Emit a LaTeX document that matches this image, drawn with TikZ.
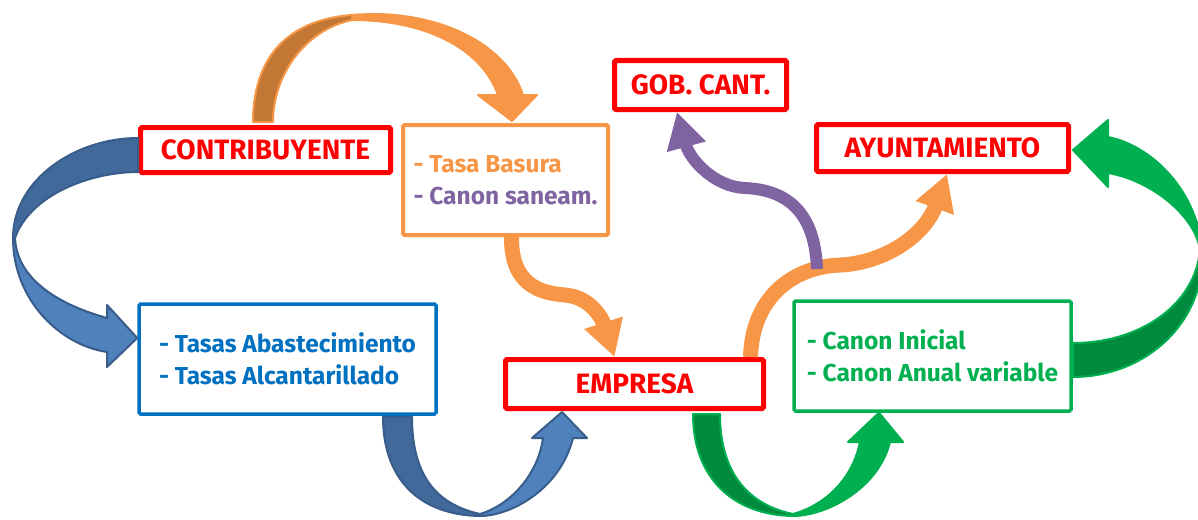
\documentclass[tikz,border=0pt]{standalone}
\usepackage{fontspec}
\setmainfont{Fira Sans}
\usepackage{xcolor}
\definecolor{cRed}{HTML}{FF0000}
\definecolor{cOra}{HTML}{F79646}
\definecolor{cOraD}{HTML}{C27834}
\definecolor{cPur}{HTML}{8064A2}
\definecolor{cBlu}{HTML}{0070C0}
\definecolor{cArB}{HTML}{4F81BD}
\definecolor{cArBD}{HTML}{41699A}
\definecolor{cArBL}{HTML}{385D8A}
\definecolor{cGrn}{HTML}{00B050}
\definecolor{cGrnD}{HTML}{008A3E}
\usetikzlibrary{arrows.meta,calc}

\begin{document}
\begin{tikzpicture}[x=1pt,y=-1pt,
  font=\bfseries\fontsize{24.5}{32}\selectfont,
  every node/.style={align=left},
  N/.style={draw,inner sep=0pt,rounded corners=1.5pt},
  lab/.style={N,draw=cRed,text=cRed,line width=5pt,minimum height=45pt,align=center,
    font=\bfseries\fontsize{28}{32}\selectfont},
  box/.style={N,line width=4pt,minimum height=110pt},
  ln/.style={-{Triangle[length=36pt,width=38pt]},line width=15pt,cOra},
  lnp/.style={ln,line width=12pt,cPur},
  ba/.style={fill=cArB,draw=cArBL,line width=2pt,line join=round},
  baD/.style={ba,fill=cArBD},
  ga/.style={fill=cGrn,draw=cGrn,line width=2pt,line join=round},
  gaD/.style={ga,fill=cGrnD},
  oa/.style={fill=cOra,draw=cOra,line width=2pt,line join=round},
  oaD/.style={oa,fill=cOraD}]
\useasboundingbox (0,0) rectangle (1198,519);

% --- labels (red) ---
\node[lab,minimum width=250pt] (contrib) at (265.5,150) {CONTRIBUYENTE};
\node[lab,minimum width=172pt,minimum height=49pt] (gob) at (700.5,85) {GOB. CANT.};
\node[lab,minimum width=252pt,minimum height=47pt] (ayunt) at (942.5,148) {AYUNTAMIENTO};
\node[lab,minimum width=258pt,minimum height=49pt] (empresa) at (634.5,384) {EMPRESA};

% --- boxes ---
\node[box,draw=cOra,minimum width=205pt] (tasa) at (505.5,180)
  {\textcolor{cOra}{- Tasa Basura}\\\textcolor{cPur}{- Canon saneam.}};
\node[box,draw=cBlu,text=cBlu,minimum width=297pt,line width=3.5pt] (tasas) at (287.5,359)
  {- Tasas Abastecimiento\\- Tasas Alcantarillado};
\node[box,draw=cGrn,text=cGrn,minimum width=277pt,line width=3.5pt] (canon) at (932.5,356)
  {- Canon Inicial\\- Canon Anual variable};

% thin arrows
\draw[ln] ($(tasa.south)+(6,0)$) .. controls (511,285) and (540,293) .. (565,295)
  .. controls (590,297) and (602,318) .. ($(empresa.north)+(-20,0)$);
\draw[ln] ($(empresa.north)+(116,0)$) .. controls (752,300) and (790,267) .. (840,265)
  .. controls (885,263) and (925,235) .. ($(ayunt.south)+(4.5,0)$);
\coordinate (fork) at (817,269);
\draw[lnp] (fork) .. controls (815,215) and (790,190) .. (745,188)
  .. controls (715,187) and (690,160) .. ($(gob.south)+(-23.5,0)$);

% block arrow, contributor -> tasas
\path[baD] ($(contrib.west)+(0,-12)$) .. controls (75,138) and (13,180) .. (13,238)
  -- (15,238) .. controls (30,195) and (90,172) .. ($(contrib.west)+(0,22)$) -- cycle;
\path[ba] (13,238) .. controls (13,300) and (60,345) .. (107,352) -- (107,367)
  -- ($(tasas.west)+(0,-21)$) -- (107,305) -- (107,318)
  .. controls (60,305) and (17,280) .. (15,238) -- cycle;
% block arrow, contributor -> tasa
\path[oaD] ($(contrib.north)+(-12.5,-3)$) .. controls (253,60) and (285,20) .. (352,15)
  -- (352,20) .. controls (305,30) and (273,75) .. ($(contrib.north)+(7.5,-3)$) -- cycle;
\path[oa] (352,15) .. controls (430,8) and (505,40) .. (523,95) -- (537,95)
  -- ($(tasa.north)+(6.5,-2)$) -- (478,95) -- (498,95)
  .. controls (480,45) and (420,20) .. (352,20) -- cycle;
% block arrow, tasas -> empresa
\path[baD] ($(tasas.south)+(95.5,1)$) .. controls (383,480) and (420,515) .. (480,516)
  -- (480,514) .. controls (440,505) and (412,480) .. ($(tasas.south)+(124.5,1)$) -- cycle;
\path[ba] (480,516) .. controls (510,516) and (560,490) .. (573,438) -- (587,438)
  -- ($(empresa.south)+(-72.5,1)$) -- (532,438) -- (543,438)
  .. controls (538,475) and (510,505) .. (480,514) -- cycle;
% block arrow, empresa -> canon
\path[gaD] ($(empresa.south)+(58.5,3)$) .. controls (693,478) and (733,515) .. (793,516)
  -- (793,514) .. controls (750,505) and (720,475) .. ($(empresa.south)+(85.5,3)$) -- cycle;
\path[ga] (793,516) .. controls (825,516) and (878,490) .. (890,442) -- (903,442)
  -- ($(canon.south)+(-53.5,0)$) -- (848,442) -- (860,442)
  .. controls (852,480) and (825,505) .. (793,514) -- cycle;
% block arrow, canon -> ayuntamiento
\path[gaD] ($(canon.east)+(0,21)$) .. controls (1140,377) and (1200,330) .. (1203,258)
  -- (1200,250) .. controls (1195,305) and (1140,343) .. ($(canon.east)+(0,-13)$) -- cycle;
\path[ga] (1203,258) .. controls (1200,190) and (1150,145) .. (1108,137) -- (1108,120)
  -- ($(ayunt.east)+(2,2)$) -- (1108,187) -- (1108,173)
  .. controls (1150,180) and (1195,215) .. (1200,250) -- cycle;
\end{tikzpicture}
\end{document}
